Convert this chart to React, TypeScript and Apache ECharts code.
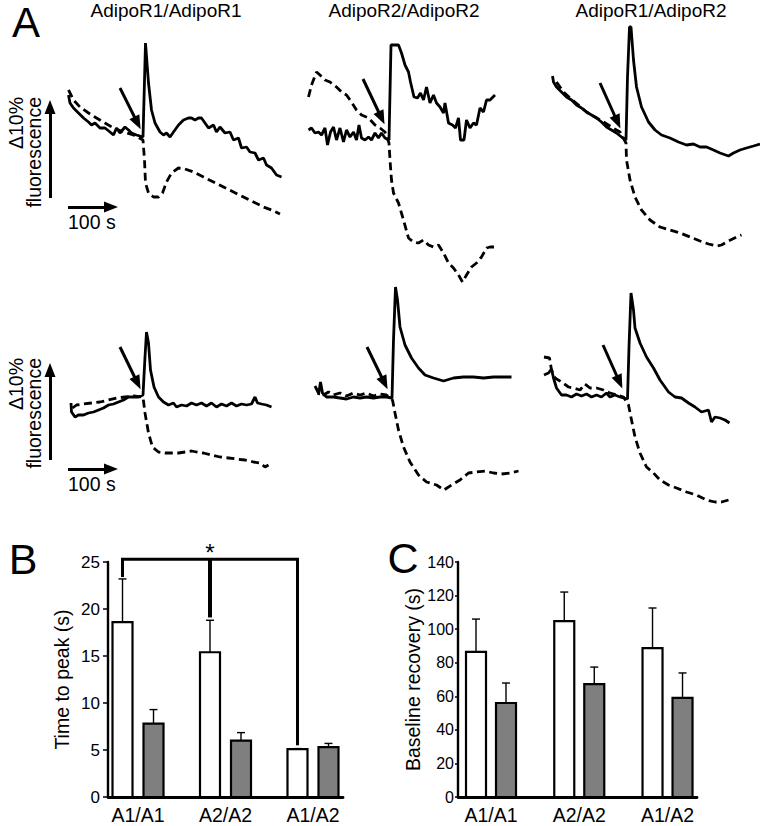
import React, { useEffect, useRef } from "react";
import * as echarts from "echarts";

const FONT = "'Liberation Sans', Arial, Helvetica, sans-serif";

// ---------- Panel A: calcium traces, [time from stimulus (s), ΔF (%)] ----------
const panelTitles = ["AdipoR1/AdipoR1", "AdipoR2/AdipoR2", "AdipoR1/AdipoR2"];

const r1R1R1Solid = [[-149,4.2],[-146,3.4],[-139,2.9],[-129,2.4],[-119,1.9],[-109,1.5],[-103,1.2],[-96,1.4],[-86,0.9],[-76,0.9],[-66,0.5],[-59,0.2],[-53,0.9],[-46,0.4],[-36,1.0],[-29,0.7],[-23,0.4],[-13,0.2],[0,0],[5,9.4],[11,5.4],[17,2.7],[24,1.4],[34,0.5],[41,0.2],[47,0.4],[54,0],[61,0.5],[71,1.2],[81,1.7],[91,1.9],[97,1.9],[104,1.7],[111,1.9],[117,1.9],[124,1.4],[131,0.9],[141,1.2],[147,0.5],[154,1.0],[164,0.4],[174,0.5],[181,-0.3],[191,-0.1],[197,-1.1],[207,-1.0],[214,-1.5],[224,-1.6],[231,-2.3],[241,-2.1],[247,-2.8],[257,-3.1],[267,-3.8],[277,-4.0]];
const r1R1R1Dashed = [[-149,4.7],[-139,3.7],[-126,3.0],[-109,2.4],[-93,1.9],[-76,1.4],[-59,0.9],[-39,0.5],[-19,0.2],[0,-0.3],[3,-2.3],[5,-4.6],[11,-5.6],[21,-6.0],[31,-6.0],[39,-5.6],[47,-4.5],[57,-3.6],[71,-3.1],[84,-3.2],[101,-3.5],[121,-4.0],[141,-4.5],[161,-5.0],[181,-5.5],[201,-6.0],[221,-6.5],[241,-7.0],[257,-7.3],[274,-7.7]];

const r1R2R2Solid = [[-163,1.0],[-157,1.2],[-150,0.7],[-143,0.8],[-137,0.5],[-130,1.2],[-125,-0.5],[-119,0.8],[-113,1.3],[-107,0.0],[-100,1.2],[-93,-0.2],[-87,1.0],[-80,0.3],[-73,0.8],[-67,0.0],[-62,1.5],[-57,0.2],[-50,0.0],[-43,0.3],[-37,0.0],[-30,0.7],[-23,0.2],[-17,0.7],[-10,0.2],[-2,0.0],[2,9.5],[7,9.5],[17,9.5],[23,8.7],[30,7.5],[37,6.8],[41,5.8],[48,4.3],[55,4.2],[61,4.7],[67,4.0],[73,5.3],[80,3.7],[87,4.5],[93,3.7],[100,3.3],[107,2.7],[110,3.7],[117,1.7],[125,1.5],[131,1.2],[137,2.2],[141,0.0],[148,0.0],[153,2.0],[160,1.2],[167,1.7],[173,1.5],[180,3.2],[187,2.8],[193,4.0],[200,4.0],[210,4.5]];
const r1R2R2Dashed = [[-163,4.3],[-157,5.5],[-147,6.8],[-140,6.5],[-130,6.0],[-120,5.8],[-107,5.3],[-97,4.8],[-87,4.5],[-77,3.8],[-67,3.0],[-57,2.5],[-43,2.2],[-30,1.5],[-20,1.2],[-10,0.8],[-2,-0.3],[0,-2.0],[3,-4.0],[7,-5.3],[17,-6.3],[27,-8.0],[37,-9.8],[47,-10.2],[57,-10.3],[67,-10.0],[77,-10.5],[87,-10.7],[97,-10.5],[107,-11.3],[117,-12.3],[127,-12.8],[137,-13.5],[145,-14.2],[153,-13.5],[163,-12.7],[173,-12.3],[183,-11.7],[193,-10.8],[200,-10.7],[208,-10.7]];

const r1R1R2Solid = [[-147,6.4],[-145,5.8],[-139,5.3],[-129,4.8],[-119,4.3],[-109,4.0],[-99,3.5],[-89,3.2],[-79,2.8],[-69,2.5],[-59,2.2],[-49,1.8],[-39,1.3],[-29,1.0],[-19,0.7],[-9,0.3],[0,0],[3,6.3],[7,11.3],[10,11.3],[15,8.0],[21,5.3],[31,3.3],[45,1.8],[58,1.0],[71,0.5],[88,0.2],[105,-0.2],[121,-0.5],[135,-0.4],[148,-0.7],[161,-0.7],[175,-1.0],[188,-1.3],[205,-1.6],[215,-1.3],[228,-1.0],[241,-0.8],[255,-0.6],[268,-0.4]];
const r1R1R2Dashed = [[-139,5.8],[-125,4.8],[-112,4.2],[-95,3.5],[-79,2.8],[-62,2.3],[-45,1.8],[-29,1.3],[-12,0.8],[0,-0.3],[1,-2.0],[8,-4.0],[18,-5.7],[31,-7.0],[48,-8.0],[68,-8.7],[88,-9.0],[108,-9.3],[128,-9.7],[148,-10.1],[165,-10.4],[181,-10.6],[191,-10.5],[205,-10.1],[221,-9.7],[231,-9.5]];

const r2R1R1Solid = [[-144,-0.8],[-143,-1.7],[-136,-2.2],[-129,-2.0],[-119,-2.0],[-109,-1.8],[-99,-1.7],[-89,-1.5],[-79,-1.3],[-69,-1.0],[-59,-0.9],[-49,-0.7],[-39,-0.5],[-29,-0.2],[-19,-0.2],[-9,-0.2],[0,0],[4,3.8],[7,6.3],[11,5.2],[15,2.5],[22,0.8],[31,-0.2],[41,-0.7],[51,-1.0],[61,-0.8],[67,-1.2],[77,-1.0],[87,-1.1],[97,-0.8],[107,-1.0],[117,-0.8],[127,-1.1],[137,-0.8],[147,-1.2],[157,-0.9],[167,-1.1],[177,-0.8],[187,-1.1],[197,-0.9],[207,-1.0],[217,-0.9],[224,-0.2],[229,-0.8],[237,-0.9],[247,-1.0],[257,-1.2]];
const r2R1R1Dashed = [[-141,-1.3],[-133,-1.0],[-119,-0.9],[-103,-0.8],[-86,-0.7],[-69,-0.5],[-53,-0.3],[-36,-0.2],[-19,-0.1],[0,-0.2],[4,-1.8],[11,-3.8],[19,-5.2],[31,-5.7],[44,-5.8],[57,-5.8],[71,-5.8],[84,-5.7],[97,-5.6],[107,-5.7],[121,-5.8],[137,-6.0],[154,-6.2],[171,-6.3],[187,-6.4],[204,-6.5],[221,-6.7],[234,-6.8],[244,-7.2],[251,-7.0]];

const r2R2R2Solid = [[-147,0.3],[-143,1.6],[-139,0.5],[-131,0.1],[-117,0.1],[-104,0.0],[-91,-0.1],[-77,0.1],[-64,0.0],[-51,0.1],[-37,0.0],[-24,0.1],[-11,0.1],[0,0],[3,5.8],[7,11.1],[11,9.8],[16,7.1],[26,5.3],[39,4.0],[53,3.0],[66,2.3],[83,2.0],[103,1.7],[123,2.0],[143,2.1],[163,2.1],[183,2.0],[203,2.1],[223,2.1],[239,2.1]];
const r2R2R2Dashed = [[-154,1.2],[-147,0.5],[-137,0.3],[-127,0.6],[-117,0.3],[-104,0.5],[-91,0.2],[-77,0.5],[-64,0.3],[-51,0.5],[-37,0.2],[-24,0.4],[-11,0.3],[1,-0.2],[6,-1.5],[13,-3.2],[23,-4.9],[36,-6.4],[53,-7.7],[69,-8.4],[89,-8.7],[104,-9.2],[119,-8.7],[136,-8.2],[153,-7.5],[169,-7.4],[186,-7.3],[203,-7.5],[219,-7.6],[236,-7.5],[253,-7.3]];

const r2R1R2Solid = [[-166,2.3],[-157,2.5],[-151,2.9],[-147,2.0],[-141,1.0],[-131,0.3],[-121,0.3],[-111,0.1],[-101,0.4],[-91,0.2],[-81,0.4],[-71,0.1],[-61,0.3],[-51,0.1],[-41,0.5],[-34,0.1],[-24,0.3],[-14,0.1],[1,-0.1],[4,5.1],[8,10.5],[13,8.8],[16,7.0],[26,5.5],[39,4.1],[53,3.0],[66,1.8],[83,0.6],[96,0.1],[109,0.0],[123,-0.5],[136,-0.9],[149,-1.4],[163,-1.2],[169,-2.4],[176,-1.9],[186,-2.0],[196,-2.2],[205,-2.5]];
const r2R1R2Dashed = [[-166,4.1],[-155,4.0],[-151,2.8],[-144,2.0],[-131,1.6],[-117,1.1],[-107,1.0],[-94,0.8],[-84,1.4],[-74,1.0],[-61,1.0],[-47,0.8],[-34,0.5],[-21,0.3],[-7,0.1],[3,-0.7],[9,-2.2],[16,-3.9],[26,-5.5],[39,-6.9],[53,-7.5],[66,-8.2],[83,-8.7],[99,-9.0],[119,-9.4],[139,-9.7],[159,-10.2],[176,-10.4],[189,-10.4],[203,-10.2]];

// stimulus arrows (tail -> head), same units
const stimArrowTail = [[-46,4.9],[-54,6.1],[-52,5.7],[-46,4.8],[-50,5.1],[-48,5.3]];
const stimArrowHead = [[-11,1.4],[-17,2.2],[-17,1.8],[-11,1.2],[-15,1.5],[-15,1.6]];

// scale bars: 10 % and 100 s
const scaleBarTimeStart = [-150, -150];
const scaleBarTimeEnd = [-64, -64];
const scaleBarTimeLevel = [-7.0, -7.4];
const scaleBarFluoX = [-186, -186];
const scaleBarFluoStart = [-6.1, -6.5];
const scaleBarFluoEnd = [3.0, 2.5];

// ---------- Panels B and C ----------
const categories = ["A1/A1", "A2/A2", "A1/A2"];
const peakWhite = [18.6, 15.4, 5.1];
const peakWhiteSem = [4.6, 3.4, 0.05];
const peakGray = [7.8, 6.0, 5.3];
const peakGraySem = [1.5, 0.85, 0.4];
const peakTicks = [0, 5, 10, 15, 20, 25];
const bracketDrops = [23.4, 19.1, 5.5];
const bracketLevel = 25.3;

const recWhite = [86.4, 104.8, 88.7];
const recWhiteSem = [19.6, 17.3, 23.9];
const recGray = [56.0, 67.3, 59.0];
const recGraySem = [11.9, 10.1, 14.9];
const recTicks = [0, 20, 40, 60, 80, 100, 120, 140];

// ---------- layout ----------
const tracePanels = [
  { sx: 143, sy: 137 }, { sx: 390, sy: 140 }, { sx: 626, sy: 140 },
  { sx: 143, sy: 395 }, { sx: 392, sy: 398 }, { sx: 627, sy: 398 },
];
const T_MIN = -200, T_MAX = 290, F_MIN = -16, F_MAX = 13;
const PX_S = 0.5, PX_PCT = 10;

const traceSets = [
  [r1R1R1Solid, r1R1R1Dashed], [r1R2R2Solid, r1R2R2Dashed], [r1R1R2Solid, r1R1R2Dashed],
  [r2R1R1Solid, r2R1R1Dashed], [r2R2R2Solid, r2R2R2Dashed], [r2R1R2Solid, r2R1R2Dashed],
];

function buildOption(): any {
  const grid: any[] = [];
  const xAxis: any[] = [];
  const yAxis: any[] = [];
  const series: any[] = [];

  tracePanels.forEach((p, i) => {
    grid.push({
      left: p.sx + T_MIN * PX_S, top: p.sy - F_MAX * PX_PCT,
      width: (T_MAX - T_MIN) * PX_S, height: (F_MAX - F_MIN) * PX_PCT,
      containLabel: false, outerBoundsMode: "none",
    });
    xAxis.push({ gridIndex: i, type: "value", min: T_MIN, max: T_MAX, show: false });
    yAxis.push({ gridIndex: i, type: "value", min: F_MIN, max: F_MAX, show: false });

    const mlData: any[] = [[{ coord: stimArrowTail[i] }, { coord: stimArrowHead[i] }]];
    const row = i === 0 ? 0 : i === 3 ? 1 : -1;
    if (row >= 0) {
      mlData.push([
        { coord: [scaleBarFluoX[row], scaleBarFluoStart[row]] },
        { coord: [scaleBarFluoX[row], scaleBarFluoEnd[row]] },
      ]);
      mlData.push([
        { coord: [scaleBarTimeStart[row], scaleBarTimeLevel[row]] },
        { coord: [scaleBarTimeEnd[row], scaleBarTimeLevel[row]] },
      ]);
    }
    const [solid, dashed] = traceSets[i];
    series.push({
      type: "line", xAxisIndex: i, yAxisIndex: i, data: dashed,
      showSymbol: false, symbol: "none", silent: true, z: 2,
      lineStyle: { color: "#000", width: 2.8, type: [8, 4.5] },
    });
    series.push({
      type: "line", xAxisIndex: i, yAxisIndex: i, data: solid,
      showSymbol: false, symbol: "none", silent: true, z: 3,
      lineStyle: { color: "#000", width: 2.8, type: "solid" },
      markLine: {
        silent: true, symbol: ["none", "triangle"], symbolSize: [11, 14],
        label: { show: false }, emphasis: { disabled: true },
        itemStyle: { color: "#000" },
        lineStyle: { color: "#000", width: 3, type: "solid" },
        data: mlData,
      },
    });
  });

  // Panel B grid (index 6) and C grid (index 7)
  grid.push({ left: 108, top: 562, width: 235, height: 235, containLabel: false, outerBoundsMode: "none" });
  grid.push({ left: 458, top: 562, width: 239, height: 235, containLabel: false, outerBoundsMode: "none" });

  const barX = (gi: number, min: number, max: number) => ({
    gridIndex: gi, type: "value", min, max,
    axisLine: { show: true, onZero: false, lineStyle: { color: "#000", width: 2.8 } },
    axisTick: { show: false }, axisLabel: { show: false }, splitLine: { show: false },
  });
  xAxis.push(barX(6, -0.343, 2.343));
  xAxis.push(barX(7, -0.374, 2.334));

  yAxis.push({
    gridIndex: 6, type: "value", min: peakTicks[0], max: peakTicks[peakTicks.length - 1], interval: peakTicks[1] - peakTicks[0],
    axisLine: { show: true, onZero: false, lineStyle: { color: "#000", width: 2.4 } },
    axisTick: { show: true, length: 5, lineStyle: { color: "#000", width: 1.5 } },
    axisLabel: { color: "#000", fontSize: 17, fontFamily: FONT, margin: 8 },
    splitLine: { show: false },
    name: "Time to peak (s)", nameLocation: "middle", nameGap: 36,
    nameTextStyle: { color: "#000", fontSize: 19.5, fontFamily: FONT },
  });
  yAxis.push({
    gridIndex: 7, type: "value", min: recTicks[0], max: recTicks[recTicks.length - 1], interval: recTicks[1] - recTicks[0],
    axisLine: { show: true, onZero: false, lineStyle: { color: "#000", width: 2.4 } },
    axisTick: { show: true, length: 3, lineStyle: { color: "#000", width: 1.5 } },
    axisLabel: { color: "#000", fontSize: 16, fontFamily: FONT, margin: 4 },
    splitLine: { show: false },
    name: "Baseline recovery (s)", nameLocation: "middle", nameGap: 35,
    nameTextStyle: { color: "#000", fontSize: 19.5, fontFamily: FONT },
  });

  const makeBars = (gi: number, means: number[], sems: number[], offset: number, fill: string) => ({
    type: "custom", xAxisIndex: gi, yAxisIndex: gi, silent: true, z: 3,
    data: means.map((m, i) => [i, m, m + sems[i]]),
    encode: { x: 0, y: 1 },
    renderItem: (params: any, api: any) => {
      const i = api.value(0), m = api.value(1), e = api.value(2);
      const pTop = api.coord([i, m]);
      const pBase = api.coord([i, 0]);
      const pErr = api.coord([i, e]);
      const cx = pTop[0] + offset;
      return {
        type: "group",
        children: [
          { type: "line", shape: { x1: cx, y1: pTop[1], x2: cx, y2: pErr[1] }, style: { stroke: "#000", lineWidth: 1.4 } },
          { type: "line", shape: { x1: cx - 4, y1: pErr[1], x2: cx + 4, y2: pErr[1] }, style: { stroke: "#000", lineWidth: 1.4 } },
          { type: "rect", shape: { x: cx - 10, y: pTop[1], width: 20, height: pBase[1] - pTop[1] }, style: { fill, stroke: "#000", lineWidth: 2.2 } },
        ],
      };
    },
  });
  series.push(makeBars(6, peakWhite, peakWhiteSem, -15.5, "#ffffff"));
  series.push(makeBars(6, peakGray, peakGraySem, 15.5, "#7f7f7f"));
  series.push(makeBars(7, recWhite, recWhiteSem, -15, "#ffffff"));
  series.push(makeBars(7, recGray, recGraySem, 15, "#7f7f7f"));

  const makeLabels = (gi: number) => ({
    type: "custom", xAxisIndex: gi, yAxisIndex: gi, silent: true,
    data: categories.map((c, i) => [i, 0]),
    encode: { x: 0, y: 1 },
    renderItem: (params: any, api: any) => {
      const p = api.coord([api.value(0), 0]);
      return {
        type: "text", x: p[0], y: p[1] + 18,
        style: { text: categories[params.dataIndex], fontSize: 19.5, fontFamily: FONT, fill: "#000", align: "center", verticalAlign: "middle" },
      };
    },
  });
  series.push(makeLabels(6));
  series.push(makeLabels(7));

  // significance bracket in B
  series.push({
    type: "custom", xAxisIndex: 6, yAxisIndex: 6, silent: true, z: 4,
    data: bracketDrops.map((d, i) => [i, d]),
    encode: { x: 0, y: 1 },
    renderItem: (params: any, api: any) => {
      const i = api.value(0), d = api.value(1);
      const last = bracketDrops.length - 1;
      const pDrop = api.coord([i, d]);
      const pLev = api.coord([i, bracketLevel]);
      const x = pDrop[0] - 15.5;
      const children: any[] = [
        { type: "line", shape: { x1: x, y1: pDrop[1], x2: x, y2: pLev[1] }, style: { stroke: "#000", lineWidth: i === 1 ? 4 : 3 } },
      ];
      if (i === 0) {
        const pEnd = api.coord([last, bracketLevel]);
        children.push({ type: "line", shape: { x1: x - 1.5, y1: pLev[1], x2: pEnd[0] - 15.5 + 1.5, y2: pLev[1] }, style: { stroke: "#000", lineWidth: 3 } });
      }
      if (i === 1) {
        children.push({ type: "text", x, y: pLev[1] - 7, style: { text: "*", fontSize: 24, fontFamily: FONT, fill: "#000", align: "center", verticalAlign: "middle" } });
      }
      return { type: "group", children };
    },
  });

  const txt = (text: string, x: number, y: number, fontSize: number, align = "center", rotation = 0) => ({
    type: "text", x, y, rotation, silent: true,
    style: { text, fontSize, fontFamily: FONT, fill: "#000", align, verticalAlign: "middle" },
  });

  const graphic: any[] = [
    txt("A", 26, 22, 42),
    txt("B", 23, 559, 43),
    txt("C", 403, 558, 43),
    txt(panelTitles[0], 166, 10.5, 19),
    txt(panelTitles[1], 404, 10.5, 19),
    txt(panelTitles[2], 651, 10.5, 19),
    txt("Δ10%", 15.5, 97, 19.5, "right", Math.PI / 2),
    txt("fluorescence", 33.5, 97, 19.5, "right", Math.PI / 2),
    txt("Δ10%", 15.5, 358, 19.5, "right", Math.PI / 2),
    txt("fluorescence", 33.5, 358, 19.5, "right", Math.PI / 2),
    txt("100 s", 68, 222, 19.5, "left"),
    txt("100 s", 68, 484, 19.5, "left"),
  ];

  return { animation: false, backgroundColor: "#ffffff", grid, xAxis, yAxis, series, graphic };
}

export default function App() {
  const ref = useRef<HTMLDivElement>(null);
  useEffect(() => {
    if (!ref.current) return;
    const chart = echarts.init(ref.current, undefined, { renderer: "svg" });
    chart.setOption(buildOption());
    return () => chart.dispose();
  }, []);
  return (
    <div
      ref={ref}
      style={{ position: "absolute", left: 0, top: 0, width: 760, height: 826, background: "#fff" }}
    />
  );
}
